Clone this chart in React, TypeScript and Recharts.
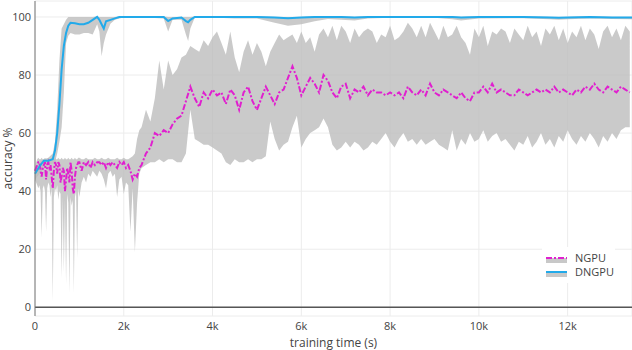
import React from "react";
import {
	ComposedChart,
	Area,
	Line,
	XAxis,
	YAxis,
	CartesianGrid,
	ReferenceLine,
} from "recharts";

/* ── axes ─────────────────────────────────────────────── */
const X_TICKS = [0, 2000, 4000, 6000, 8000, 10000, 12000];
const Y_TICKS = [0, 20, 40, 60, 80, 100];

/* ── NGPU, 0 .. 975 s read every 25 s ─────────────────── */
const ngpuStartMean = [
	47, 48, 49, 50, 50, 47, 45, 48, 49, 50,
	44, 49, 50, 48, 49, 45, 41, 47, 50, 49,
	46, 50, 49, 43, 45, 48, 47, 40, 44, 48,
	46, 43, 50, 47, 41, 39, 45, 48, 49, 50,
];
const ngpuStartLow = [
	44, 43, 42, 41, 42, 40, 24, 41, 42, 40,
	26, 41, 43, 42, 38, 41, 2, 38, 41, 40,
	42, 37, 40, 39, 10, 38, 12, 37, 8, 39,
	36, 5, 38, 35, 37, 5, 38, 40, 17, 41,
];
const ngpuStartHigh = [
	48, 50, 51, 51.5, 51, 51, 51.5, 51, 51, 51.5,
	51, 51, 51.5, 51, 51, 51.5, 51, 51, 51.5, 51,
	51, 51.5, 51, 51, 51.5, 51, 51, 51.5, 51, 51,
	51.5, 51, 51, 51.5, 51, 51, 51.5, 51, 51, 51.5,
];

/* ── NGPU, 1000 .. 2350 s read every 50 s ─────────────── */
const ngpuMidMean = [
	50, 47, 50, 49, 50, 48, 50, 49, 50, 50,
	49, 50, 48, 50, 49, 50, 49, 48, 50, 49,
	50, 48, 49, 47, 44, 46, 45, 48,
];
const ngpuMidLow = [
	38, 43, 45, 43, 46, 45, 47, 46, 45, 47,
	46, 44, 41, 46, 47, 45, 46, 38, 44, 45,
	39, 43, 42, 26, 41, 19, 36, 46,
];
const ngpuMidHigh = [
	51.5, 51, 51, 51.5, 51, 51, 51, 51.5, 51, 51,
	51.5, 51, 51, 51.5, 51, 51, 51, 51.5, 51, 51,
	51.5, 51, 51, 51.5, 52, 53, 58, 61,
];

/* ── NGPU, 2400 .. 13400 s read every 100 s ───────────── */
const ngpuLateMean = [
	49, 53, 55, 60, 59, 61, 60, 63, 65, 66, // 2400
	71, 76, 72, 69, 74, 72, 75, 73, 74, 70, // 3400
	75, 73, 68, 74, 76, 71, 68, 72, 76, 73, // 4400
	70, 74, 75, 79, 83, 79, 73, 76, 79, 77, // 5400
	74, 80, 78, 74, 72, 76, 77, 72, 75, 74, // 6400
	76, 73, 75, 74, 74, 73, 74, 73, 74, 72, // 7400
	76, 74, 73, 75, 73, 77, 74, 73, 75, 74, // 8400
	73, 72, 74, 72, 71, 74, 74, 76, 74, 77, // 9400
	74, 75, 74, 73, 73, 75, 74, 73, 74, 75, // 10400
	74, 75, 74, 76, 74, 75, 74, 73, 75, 74, // 11400
	76, 75, 77, 75, 74, 76, 75, 74, 76, 75, // 12400
	74,
];
const ngpuLateLow = [
	48, 49, 50, 50, 51, 50, 51, 51, 50, 50,
	53, 68, 58, 57, 56, 56, 55, 54, 53, 50,
	49, 51, 50, 50, 51, 50, 51, 51, 52, 64,
	58, 54, 56, 57, 62, 66, 55, 58, 60, 61,
	62, 65, 62, 56, 54, 55, 57, 55, 57, 56,
	54, 55, 57, 56, 58, 60, 57, 55, 58, 60,
	57, 58, 56, 58, 56, 57, 58, 56, 55, 54,
	61, 54, 58, 56, 60, 57, 58, 61, 57, 59,
	60, 57, 58, 56, 54, 57, 56, 59, 55, 57,
	60, 56, 58, 55, 59, 57, 61, 58, 56, 59,
	57, 60, 58, 55, 59, 57, 60, 58, 61, 62,
	62,
];
const ngpuLateHigh = [
	62, 68, 64, 72, 85, 75, 85, 80, 82, 86,
	87, 90, 89, 88, 92, 90, 93, 95, 91, 87,
	95, 86, 81, 88, 92, 87, 91, 88, 83, 88,
	91, 94, 92, 93, 94, 91, 95, 91, 93, 88,
	94, 96, 93, 97, 92, 97, 95, 91, 96, 93,
	95, 96, 95, 91, 94, 93, 97, 92, 93, 95,
	98, 96, 93, 97, 93, 98, 95, 92, 97, 93,
	94, 97, 93, 91, 87, 96, 93, 97, 90, 95,
	94, 96, 95, 91, 96, 94, 92, 97, 93, 95,
	90, 96, 94, 97, 92, 96, 91, 95, 93, 97,
	92, 96, 94, 89, 95, 97, 93, 96, 92, 97,
	95,
];

/* ── DNGPU ────────────────────────────────────────────── */
const dngpuTime = [
	0, 100, 200, 300, 400, 450, 500, 550, 600, 650,
	700, 750, 800, 900, 1000, 1100, 1200, 1300, 1400, 1450,
	1500, 1550, 1600, 1700, 1800, 1900, 2000, 2500, 2900, 3000,
	3100, 3300, 3400, 3450, 3500, 3600, 4000, 4500, 5000, 5400,
	5700, 6000, 6300, 6600, 6900, 7200, 7500, 8000, 9000, 9400,
	9600, 10000, 11000, 11600, 11800, 12000, 12500, 13000, 13450,
];
const dngpuMean = [
	46, 48.5, 50.5, 50.5, 51, 54, 60, 70, 82, 90,
	94.5, 97, 98, 97.8, 97.5, 97.5, 98, 99, 100, 99,
	97.5, 96, 98.5, 99, 99.5, 100, 100, 100, 100, 98.6,
	99.5, 99.8, 98.6, 98.2, 99, 100, 100, 100, 100, 99.8,
	99.6, 99.8, 100, 100, 100, 99.8, 100, 100, 100, 100,
	99.8, 100, 100, 99.8, 99.7, 99.8, 100, 99.8, 99.8,
];
const dngpuLow = [
	44, 46, 48, 49, 49.5, 50, 53, 57, 62, 74,
	91, 93.5, 94.5, 94, 94, 94.5, 94.5, 94, 97.5, 95,
	86.5, 91, 94, 97.7, 99, 99.5, 99.8, 99.8, 99.5, 95,
	99, 99, 94, 91.7, 96, 99.8, 99.8, 99.5, 99.5, 98,
	97, 97.5, 98.5, 99.3, 99, 98.8, 99.5, 99.7, 99.7, 99.2,
	98.8, 99.5, 99.6, 99.2, 99, 99.2, 99.5, 99.3, 99.2,
];
const dngpuHigh = [
	47, 50, 51, 51.5, 53, 57, 68, 85, 96, 97.5,
	99, 100, 100, 100, 100, 100, 100, 100, 100.2, 100,
	100, 100, 100, 100, 100, 100.2, 100.2, 100.2, 100.2, 100,
	100, 100, 100, 100, 100, 100.2, 100.2, 100.2, 100.2, 100,
	100, 100, 100.2, 100.2, 100.2, 100, 100.2, 100.2, 100.2, 100.2,
	100, 100.2, 100.2, 100, 100, 100, 100.2, 100, 100,
];

/* ── tables for recharts ─────────────────────────────── */
const ngpuData = [
	...ngpuStartMean.map((m, i) => ({
		t: i * 25,
		mean: m,
		band: [ngpuStartLow[i], ngpuStartHigh[i]],
	})),
	...ngpuMidMean.map((m, i) => ({
		t: 1000 + i * 50,
		mean: m,
		band: [ngpuMidLow[i], ngpuMidHigh[i]],
	})),
	...ngpuLateMean.map((m, i) => ({
		t: 2400 + i * 100,
		mean: m,
		band: [ngpuLateLow[i], ngpuLateHigh[i]],
	})),
];

const dngpuData = dngpuTime.map((t, i) => ({
	t,
	mean: dngpuMean[i],
	band: [dngpuLow[i], dngpuHigh[i]],
}));

const MAGENTA = "#e020cf";
const BLUE = "#22aaea";
const BAND = "#bdbdbd";
const FONT = "'Open Sans', 'Noto Sans', sans-serif";

const fmtK = (v: number) => (v === 0 ? "0" : `${v / 1000}k`);

function LegendBox() {
	return (
		<div
			style={{
				position: "absolute",
				left: 542,
				top: 247,
				width: 73,
				height: 36,
				background: "#fff",
			}}
		>
			<svg width={73} height={36} style={{ display: "block" }}>
				<rect x={4} y={11} width={21} height={5} fill="#c8c8c8" />
				<line
					x1={4}
					x2={25}
					y1={11}
					y2={11}
					stroke={MAGENTA}
					strokeWidth={2}
					strokeDasharray="6 2 2 2"
				/>
				<text x={33} y={15} fontSize={11} fill="#444" fontFamily={FONT}>
					NGPU
				</text>
				<rect x={4} y={25} width={21} height={5} fill="#c8c8c8" />
				<line x1={4} x2={25} y1={25} y2={25} stroke={BLUE} strokeWidth={2} />
				<text x={33} y={29} fontSize={11} fill="#444" fontFamily={FONT}>
					DNGPU
				</text>
			</svg>
		</div>
	);
}

export default function App() {
	return (
		<div
			style={{
				position: "absolute",
				left: 0,
				top: 0,
				width: 632,
				height: 350,
				background: "#fff",
				fontFamily: FONT,
			}}
		>
			<ComposedChart
				width={632}
				height={350}
				margin={{ top: 1, right: 0, bottom: 0, left: 0 }}
			>
				<CartesianGrid stroke="#ececec" />
				<XAxis
					type="number"
					dataKey="t"
					domain={[0, 13450]}
					ticks={X_TICKS}
					tickFormatter={fmtK}
					height={34}
					axisLine={false}
					tickLine={false}
					tickSize={0}
					tickMargin={6}
					tick={{ fill: "#444", fontSize: 11 }}
					label={{
						value: "training time (s)",
						position: "insideBottom",
						offset: 3,
						fill: "#444",
						fontSize: 12,
					}}
				/>
				<YAxis
					type="number"
					domain={[-3, 105.5]}
					ticks={Y_TICKS}
					width={35}
					axisLine={{ stroke: "#777" }}
					tickLine={false}
					tickSize={0}
					tickMargin={4}
					tick={{ fill: "#444", fontSize: 11 }}
					label={{
						value: "accuracy %",
						angle: -90,
						position: "insideLeft",
						offset: 8,
						fill: "#444",
						fontSize: 12,
						style: { textAnchor: "middle" },
					}}
				/>
				<ReferenceLine y={0} stroke="#555" strokeWidth={1.5} />
				<Area
					data={ngpuData}
					dataKey="band"
					stroke="none"
					fill={BAND}
					fillOpacity={0.8}
					isAnimationActive={false}
				/>
				<Area
					data={dngpuData}
					dataKey="band"
					stroke="none"
					fill={BAND}
					fillOpacity={0.8}
					isAnimationActive={false}
				/>
				<Line
					data={ngpuData}
					dataKey="mean"
					stroke={MAGENTA}
					strokeWidth={2}
					strokeDasharray="6 2 2 2"
					dot={false}
					isAnimationActive={false}
				/>
				<Line
					data={dngpuData}
					dataKey="mean"
					stroke={BLUE}
					strokeWidth={2}
					dot={false}
					isAnimationActive={false}
				/>
			</ComposedChart>
			<LegendBox />
		</div>
	);
}
